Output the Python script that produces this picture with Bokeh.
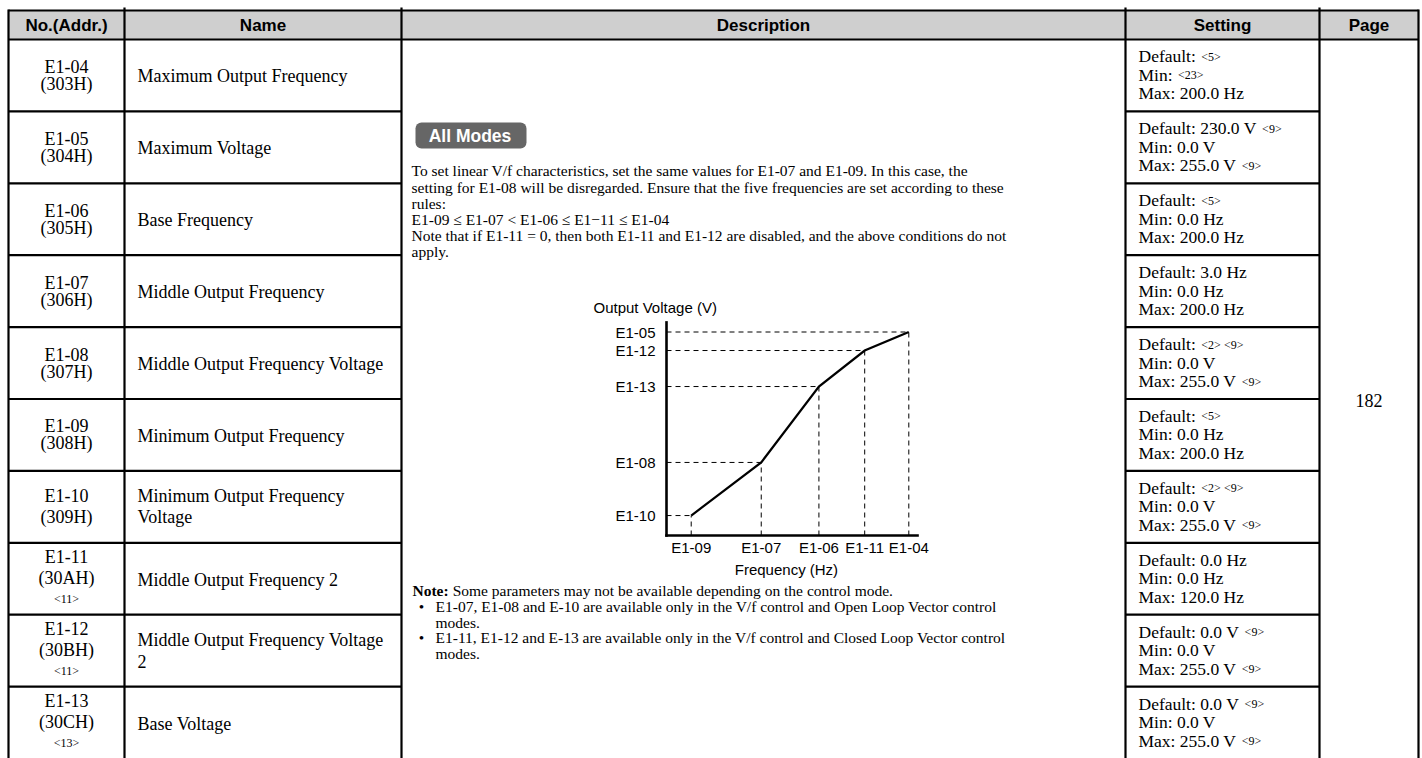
from bokeh.plotting import figure
from bokeh.models import Range1d, BoxAnnotation
from bokeh.core.properties import value
from bokeh.embed import file_html
from bokeh.resources import INLINE

# ---------------- data ----------------
header_labels = ["No.(Addr.)", "Name", "Description", "Setting", "Page"]
param_no = ["E1-04", "E1-05", "E1-06", "E1-07", "E1-08", "E1-09", "E1-10", "E1-11", "E1-12", "E1-13"]
param_addr = ["(303H)", "(304H)", "(305H)", "(306H)", "(307H)", "(308H)", "(309H)", "(30AH)", "(30BH)", "(30CH)"]
param_ref = ["", "", "", "", "", "", "", "<11>", "<11>", "<13>"]
param_name = [["Maximum Output Frequency"], ["Maximum Voltage"], ["Base Frequency"],
              ["Middle Output Frequency"], ["Middle Output Frequency Voltage"],
              ["Minimum Output Frequency"], ["Minimum Output Frequency", "Voltage"],
              ["Middle Output Frequency 2"], ["Middle Output Frequency Voltage", "2"],
              ["Base Voltage"]]
default_text = ["Default:", "Default: 230.0 V", "Default:", "Default: 3.0 Hz", "Default:",
                "Default:", "Default:", "Default: 0.0 Hz", "Default: 0.0 V", "Default: 0.0 V"]
default_ref = ["<5>", "<9>", "<5>", "", "<2> <9>", "<5>", "<2> <9>", "", "<9>", "<9>"]
min_text = ["Min:", "Min: 0.0 V", "Min: 0.0 Hz", "Min: 0.0 Hz", "Min: 0.0 V",
            "Min: 0.0 Hz", "Min: 0.0 V", "Min: 0.0 Hz", "Min: 0.0 V", "Min: 0.0 V"]
min_ref = ["<23>", "", "", "", "", "", "", "", "", ""]
max_text = ["Max: 200.0 Hz", "Max: 255.0 V", "Max: 200.0 Hz", "Max: 200.0 Hz", "Max: 255.0 V",
            "Max: 200.0 Hz", "Max: 255.0 V", "Max: 120.0 Hz", "Max: 255.0 V", "Max: 255.0 V"]
max_ref = ["", "<9>", "", "", "<9>", "", "<9>", "", "<9>", "<9>"]
page_no = "182"

mode_badge = "All Modes"
desc_lines = [
    "To set linear V/f characteristics, set the same values for E1-07 and E1-09. In this case, the",
    "setting for E1-08 will be disregarded. Ensure that the five frequencies are set according to these",
    "rules:",
    "E1-09 \u2264 E1-07 < E1-06 \u2264 E1\u221211 \u2264 E1-04",
    "Note that if E1-11 = 0, then both E1-11 and E1-12 are disabled, and the above conditions do not",
    "apply.",
]
note_head = "Note:"
note_text = "Some parameters may not be available depending on the control mode."
bullet_lines = [
    ["E1-07, E1-08 and E-10 are available only in the V/f control and Open Loop Vector control", "modes."],
    ["E1-11, E1-12 and E-13 are available only in the V/f control and Closed Loop Vector control", "modes."],
]

# V/f pattern (schematic units, E1-04 / E1-05 = 100)
chart_y_title = "Output Voltage (V)"
chart_x_title = "Frequency (Hz)"
freq_labels = ["E1-09", "E1-07", "E1-06", "E1-11", "E1-04"]
freq_vals = [10.2, 39.1, 62.9, 81.8, 100.0]
volt_labels = ["E1-10", "E1-08", "E1-13", "E1-12", "E1-05"]
volt_vals = [9.8, 35.9, 73.2, 90.9, 100.0]

# ---------------- layout constants (page pixels) ----------------
W, H = 1422, 758
X0, X1 = 0, W
YB, YT = H, 0
COLS = [8, 124, 401, 1125, 1319, 1418]
TOP, HEAD_B = 10, 39
ROW_H = 71.9
N = len(param_no)
row_edges = [HEAD_B + i * ROW_H for i in range(N + 1)]
row_mid = [(row_edges[i] + row_edges[i + 1]) / 2 for i in range(N)]

SERIF = "Liberation Serif"
SANS = "Liberation Sans"

TW = {' ': 250, '.': 250, ':': 278, ',': 250, '<': 564, '>': 564, '(': 333, ')': 333, '-': 333,
      'A': 722, 'B': 667, 'C': 667, 'D': 722, 'E': 611, 'H': 722, 'M': 889, 'N': 722, 'V': 722,
      'a': 444, 'e': 444, 'f': 333, 'i': 278, 'l': 278, 'n': 500, 'o': 500, 't': 278, 'u': 500,
      'x': 500, 'z': 444}
TWB = {'N': 722, 'o': 500, 't': 333, 'e': 444, ':': 333}


def tw(s, size, table=TW):
    return sum(table.get(c, 500) for c in s) / 1000.0 * size


p = figure(width=W, height=H, x_range=Range1d(X0, X1), y_range=Range1d(YB, YT),
           output_backend="svg", toolbar_location=None, min_border=0,
           x_axis_location=None, y_axis_location=None, outline_line_color=None)
p.grid.visible = False
p.background_fill_color = "white"
p.border_fill_color = "white"


def txt(xs, ys, texts, size, font=SERIF, style="normal", align="left", color="black",
        x_offset=0, y_offset=0, rn=None):
    kw = {}
    if rn:
        kw = dict(x_range_name=rn, y_range_name=rn)
    p.text(x=xs, y=ys, text=texts, text_font=value(font), text_font_size=f"{size}px",
           text_font_style=style, text_align=align, text_baseline="middle",
           text_color=color, x_offset=x_offset, y_offset=y_offset, **kw)


# header background
p.quad(left=[COLS[0]], right=[COLS[-1]], top=[TOP], bottom=[HEAD_B],
       fill_color="#cfcfcf", line_color=None)

# grid lines
LW = 2.2
hx0, hy0, hx1, hy1 = [], [], [], []
for y in (TOP, HEAD_B):
    hx0.append(COLS[0]); hx1.append(COLS[-1]); hy0.append(y); hy1.append(y)
for y in row_edges[1:-1]:
    hx0 += [COLS[0], COLS[3]]; hx1 += [COLS[2], COLS[4]]; hy0 += [y, y]; hy1 += [y, y]
p.segment(x0=hx0, y0=hy0, x1=hx1, y1=hy1, line_color="black", line_width=LW)
vx = COLS
vy0 = [TOP - 1] + [TOP - 3] * 4 + [TOP - 1]
p.segment(x0=vx, y0=vy0, x1=vx, y1=[YB] * len(vx), line_color="black", line_width=LW)

# header text
hc = [(COLS[i] + COLS[i + 1]) / 2 for i in range(5)]
txt(hc, [(TOP + HEAD_B) / 2 + 0.5] * 5, header_labels, 17, font=SANS, style="bold", align="center")

# No. column
nx = (COLS[0] + COLS[1]) / 2
for i in range(N):
    c = row_mid[i]
    if param_ref[i]:
        sp = 21.5
        txt([nx, nx], [c - sp, c - 0.5], [param_no[i], param_addr[i]], 18, align="center")
        txt([nx], [c + sp - 1.5], [param_ref[i]], 12, align="center")
    else:
        sp = 21 if len(param_name[i]) > 1 else 17
        txt([nx, nx], [c - sp / 2, c + sp / 2], [param_no[i], param_addr[i]], 18, align="center")

# Name column
name_x = 137
for i in range(N):
    c = row_mid[i]
    lines = param_name[i]
    if len(lines) == 1:
        txt([name_x], [c + 1], lines, 18)
    else:
        txt([name_x] * 2, [c - 10.5, c + 10.5], lines, 18)

# Setting column
sx = 1138
SS = 17.5
for i in range(N):
    c = row_mid[i]
    ys = [c - 19, c - 0.5, c + 18]
    mains = [default_text[i], min_text[i], max_text[i]]
    refs = [default_ref[i], min_ref[i], max_ref[i]]
    txt([sx] * 3, ys, mains, SS)
    rx, ry, rt = [], [], []
    for m, r, y in zip(mains, refs, ys):
        if r:
            rx.append(sx + tw(m, SS) + 5.5); ry.append(y + 0.5); rt.append(r)
    if rt:
        txt(rx, ry, rt, 12)

# Page column
txt([(COLS[4] + COLS[5]) / 2], [(HEAD_B + row_edges[-1]) / 2 + 1], [page_no], 18, align="center")

# Description: badge and text
p.add_layout(BoxAnnotation(left=415, right=526, top=122, bottom=148, fill_color="#666666",
                           fill_alpha=1.0, line_color=None, border_radius=6, level="underlay"))
txt([469.5], [135.5], [mode_badge], 17.5, font=SANS, style="bold", align="center", color="white")

DS = 15.5
dx = 411
dys = [169.5] + [187.2 + k * 15.9 for k in range(len(desc_lines) - 1)]
txt([dx] * len(desc_lines), dys, desc_lines, DS)

ny = 590
txt([412], [ny], [note_head], DS, style="bold")
txt([412 + tw(note_head, DS, TWB) + 4], [ny], [note_text], DS)
bx, by, bt, bux, buy = [], [], [], [], []
y = ny
for bl in bullet_lines:
    y += 15.8
    bux.append(421); buy.append(y)
    for k, line in enumerate(bl):
        if k:
            y += 15.8
        bx.append(435); by.append(y); bt.append(line)
txt(bux, buy, ["\u2022"] * len(bux), DS, align="center")
txt(bx, by, bt, DS)

# ---------------- V/f chart via its own scales ----------------
CH_X0, CH_Y0 = 666, 535      # page px of the chart origin
CH_SX, CH_SY = 2.423, 2.035  # page px per chart unit
p.extra_x_ranges = {"vf": Range1d(-(CH_X0 - X0) / CH_SX, (X1 - CH_X0) / CH_SX)}
p.extra_y_ranges = {"vf": Range1d(-(YB - CH_Y0) / CH_SY, (CH_Y0 - YT) / CH_SY)}
AX_X, AX_Y = 103.6, 104.7
rn = "vf"

# dashed guides
p.segment(x0=[0] * len(volt_vals), y0=volt_vals, x1=freq_vals, y1=volt_vals,
          line_color="black", line_width=1, line_dash="5 4", x_range_name=rn, y_range_name=rn)
p.segment(x0=freq_vals, y0=[0] * len(freq_vals), x1=freq_vals, y1=volt_vals,
          line_color="black", line_width=1, line_dash="5 4", x_range_name=rn, y_range_name=rn)
# axes
p.segment(x0=[0, 0], y0=[0, 0], x1=[AX_X, 0], y1=[0, AX_Y], line_color="black",
          line_width=2.6, line_cap="square", x_range_name=rn, y_range_name=rn)
# curve
p.line(x=freq_vals, y=volt_vals, line_color="black", line_width=2.2, line_join="miter",
       x_range_name=rn, y_range_name=rn)

CS = 15
txt([0] * len(volt_vals), volt_vals, volt_labels, CS, font=SANS, align="right", x_offset=-11, rn=rn)
txt(freq_vals, [0] * len(freq_vals), freq_labels, CS, font=SANS, align="center", y_offset=12, rn=rn)
txt([AX_X / 2 - 2.3], [0], [chart_x_title], CS, font=SANS, align="center", y_offset=34, rn=rn)
txt([0], [AX_Y], [chart_y_title], CS, font=SANS, align="left", x_offset=-73, y_offset=-15, rn=rn)

open("out.html", "w").write(file_html(p, INLINE))
